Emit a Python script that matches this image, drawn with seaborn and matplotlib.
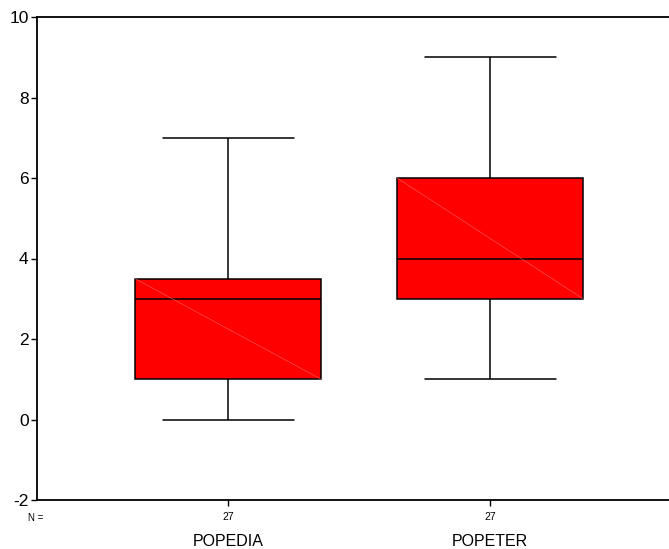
import numpy as np
import pandas as pd
import matplotlib
matplotlib.use("Agg")
import matplotlib.pyplot as plt
import seaborn as sns

categories = ["POPEDIA", "POPETER"]
popedia = [0, 0, 1, 1, 1, 1, 1, 1, 2, 2, 2, 3, 3, 3, 3, 3, 3, 3, 3, 3, 4, 4, 5, 5, 6, 6, 7]
popeter = [1, 1, 2, 2, 2, 3, 3, 3, 3, 3, 4, 4, 4, 4, 5, 5, 5, 5, 5, 6, 6, 6, 7, 7, 8, 8, 9]
n_labels = ["27", "27"]
yticks = [-2, 0, 2, 4, 6, 8, 10]

df = pd.DataFrame({
    "var": [categories[0]] * len(popedia) + [categories[1]] * len(popeter),
    "value": popedia + popeter,
})

sns.set_style("white")
plt.rcParams["font.family"] = ["Liberation Sans", "DejaVu Sans"]
plt.rcParams["text.color"] = "black"
plt.rcParams["xtick.color"] = "black"
plt.rcParams["ytick.color"] = "black"

fig = plt.figure(figsize=(6.69, 5.49), dpi=100)
ax = fig.add_axes([37 / 669, 1 - 500 / 549, 1 - 37 / 669, (500 - 17) / 549])

sns.boxplot(data=df, x="var", y="value", ax=ax, color="#ff0000", saturation=1,
            width=0.71, linecolor="black", linewidth=1.1, whis=1.5, fliersize=0)

# widen caps to ~70% of box width
for line in ax.lines:
    xd = np.asarray(line.get_xdata(), dtype=float)
    yd = np.asarray(line.get_ydata(), dtype=float)
    if len(xd) == 2 and yd[0] == yd[1] and abs(xd[1] - xd[0]) > 0.01:
        c = xd.mean()
        half = abs(xd[1] - xd[0]) / 2
        if half < 0.3:  # caps, not medians
            line.set_xdata([c - 0.25, c + 0.25])

# faint diagonal artifact inside boxes
for p in ax.patches:
    ext = p.get_path().get_extents(p.get_transform())
    inv = ax.transData.inverted()
    (x0, y0), (x1, y1) = inv.transform([[ext.x0, ext.y0], [ext.x1, ext.y1]])
    ax.plot([x0, x1], [y1, y0], color="#ff8080", lw=0.5, alpha=0.6, zorder=p.get_zorder() + 0.1)

ax.set_ylim(-2, 10)
ax.set_xlim(-0.729, 1.683)
ax.set_yticks(yticks)
ax.set_yticklabels([str(t) for t in yticks], fontsize=12.5)
ax.set_xticks([0, 1])
ax.set_xticklabels(n_labels, fontsize=7.5)
ax.set_xlabel("")
ax.set_ylabel("")
ax.tick_params(axis="both", which="major", bottom=True, left=True, direction="out",
               length=4, width=1, color="black", labelcolor="black", pad=2)
ax.tick_params(axis="x", pad=5)

for s in ["left", "bottom", "top"]:
    ax.spines[s].set_visible(True)
    ax.spines[s].set_color("black")
    ax.spines[s].set_linewidth(1.3)
ax.spines["right"].set_visible(False)

for i, cat in enumerate(categories):
    ax.text(i, -0.085, cat, transform=ax.get_xaxis_transform(), ha="center", va="center",
            fontsize=11.5, color="black")

fig.text(36 / 669, 1 - 518 / 549, "N =", ha="center", va="center", fontsize=7, color="black")

fig.savefig("out.png", dpi=100)
